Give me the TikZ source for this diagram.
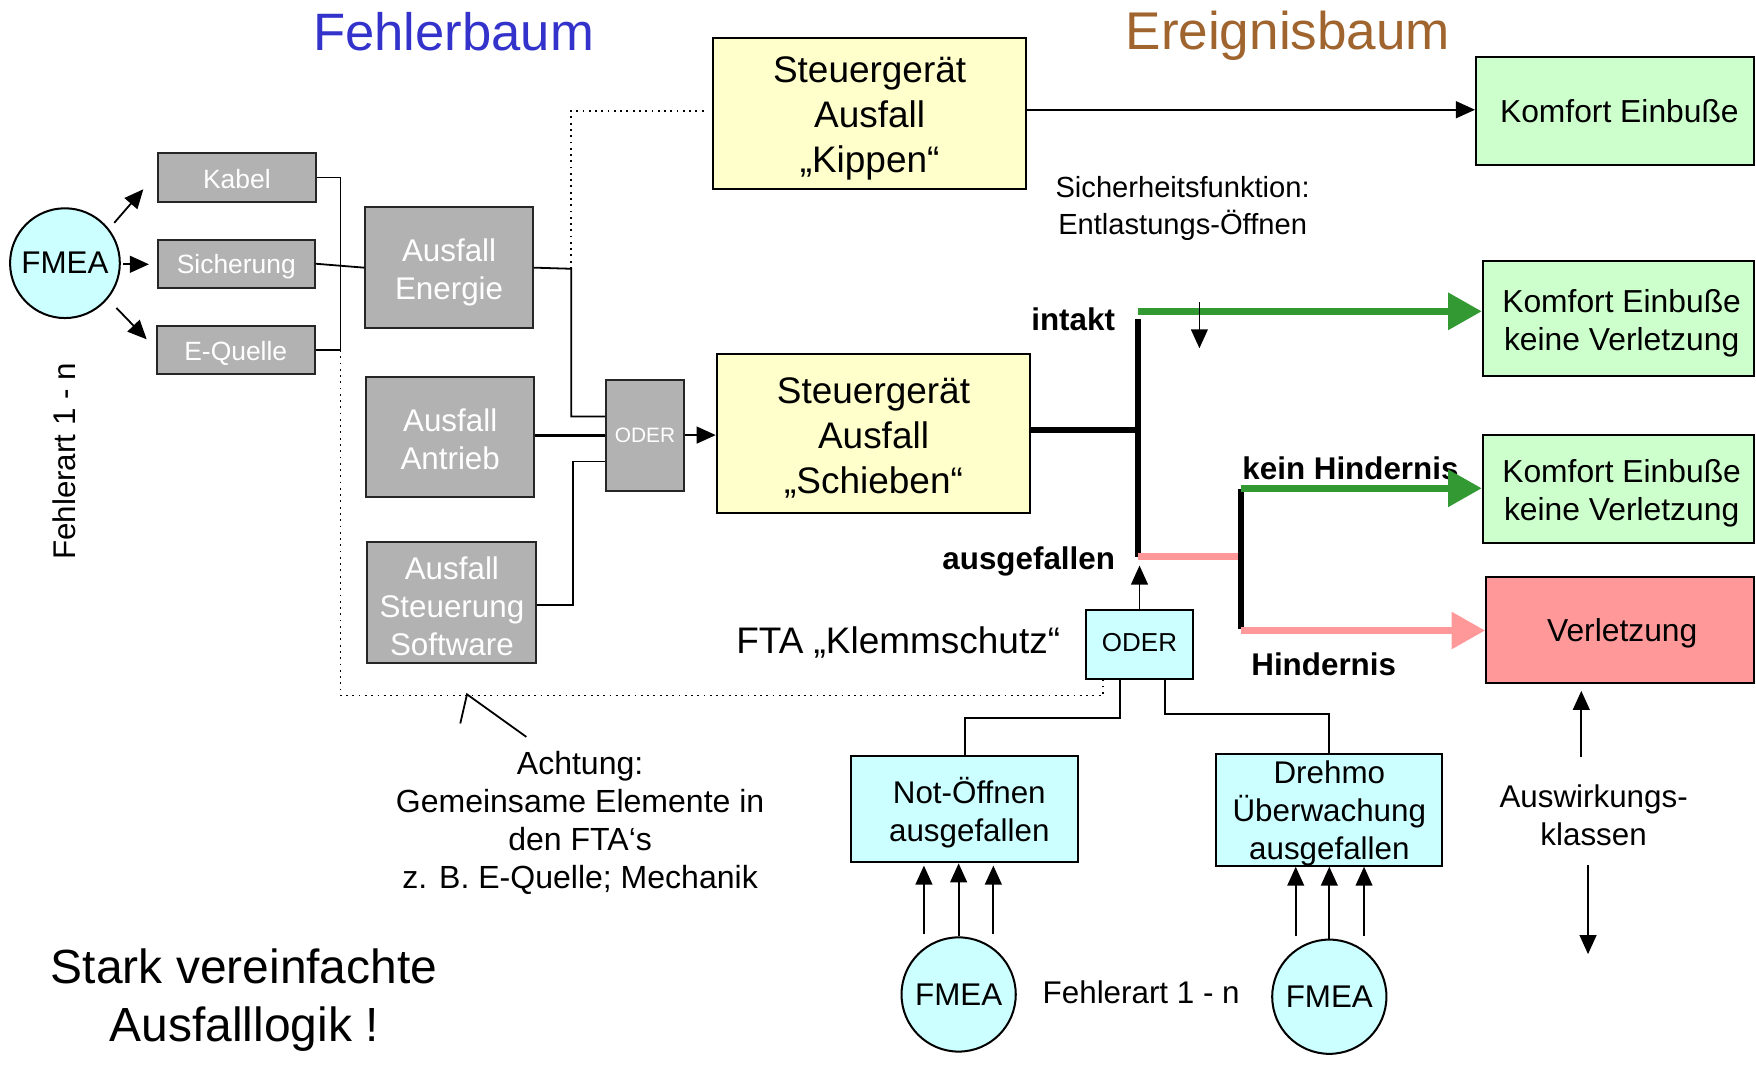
\documentclass[tikz,border=0pt]{standalone}
\usepackage{fontspec}
\setmainfont{Liberation Sans}
\usetikzlibrary{arrows.meta,calc}
\definecolor{grayfill}{HTML}{B2B2B2}
\definecolor{yelfill}{HTML}{FFFFCC}
\definecolor{grnfill}{HTML}{CCFFCC}
\definecolor{cyanfill}{HTML}{CCFFFF}
\definecolor{redfill}{HTML}{FF9999}
\definecolor{grnline}{HTML}{339933}
\definecolor{pinkline}{HTML}{FF9999}
\definecolor{titleblue}{HTML}{3333CC}
\definecolor{titlebrown}{HTML}{A0652F}
\newcommand\fsz[2]{\fontsize{#1}{#2}\selectfont}
\begin{document}
\begin{tikzpicture}[x=0.5pt,y=-0.5pt,
  box/.style={draw=black, line width=0.9pt, inner sep=0pt, align=center},
  gbox/.style={box, fill=grayfill, draw=black!85},
  ybox/.style={box, fill=yelfill},
  grbox/.style={box, fill=grnfill},
  cbox/.style={box, fill=cyanfill},
  fmeac/.style={draw=black, line width=0.9pt, fill=cyanfill, circle, inner sep=0pt, font=\fsz{14}{17}},
  wire/.style={line width=0.8pt},
  arr/.style={line width=0.8pt, -{Triangle[length=8.5pt,width=7.5pt]}},
  dotline/.style={line width=0.8pt, dotted},
  thickline/.style={line width=2.7pt},
  garr/.style={line width=3pt, draw=grnline, -{Triangle[length=15pt,width=16pt]}},
  parr/.style={line width=3pt, draw=pinkline, -{Triangle[length=15pt,width=16pt]}},
  lbl/.style={inner sep=0pt, align=center},
  blbl/.style={inner sep=0pt, font=\bfseries\fsz{14}{17}},
  wtxt/.style={lbl, text=white, font=\fsz{14}{17}},
  btxt/.style={lbl, font=\fsz{14.2}{17}},
]
\useasboundingbox (0,0) rectangle (1568,957);

% titles
\node[lbl, text=titleblue, font=\fsz{23.5}{28}] (t1) at (405,28) {Fehlerbaum};
\node[lbl, text=titlebrown, font=\fsz{23.7}{28}] (t2) at (1150,32) {Ereignisbaum};

% left FMEA
\node[fmeac, minimum size=49pt] (fmeaL) at (58,235) {FMEA};
\node[lbl, rotate=90, font=\fsz{14}{17}] (fa1) at (57,412) {Fehlerart 1 - n};

% small gray boxes
\node[gbox, minimum width=70.5pt, minimum height=21.5pt] (kabel) at (211.5,158.5) {};
\node[gbox, minimum width=70pt, minimum height=21.5pt] (sich) at (211,235.5) {};
\node[gbox, minimum width=70.5pt, minimum height=21.5pt] (quelle) at (210.5,312.5) {};
\node[wtxt, font=\fsz{11.8}{14}] (kabelt) at ([yshift=-0.8pt]kabel.center) {Kabel};
\node[wtxt, font=\fsz{11.8}{14}] (sicht) at ([yshift=-1.4pt]sich.center) {Sicherung};
\node[wtxt, font=\fsz{11.8}{14}] (quellet) at ([yshift=-1.4pt]quelle.center) {E-Quelle};

% big gray boxes
\node[gbox, minimum width=75pt, minimum height=54pt] (energie) at (401,239) {};
\node[gbox, minimum width=75pt, minimum height=53.5pt] (antrieb) at (402,390.5) {};
\node[gbox, minimum width=75.5pt, minimum height=54pt] (steuer) at (403.5,538) {};
\node[wtxt] (energiet) at ([yshift=-2pt]energie.center) {Ausfall\\Energie};
\node[wtxt] (antriebt) at ([yshift=-1pt]antrieb.center) {Ausfall\\Antrieb};
\node[wtxt] (steuert) at ([yshift=-1.5pt]steuer.center) {Ausfall\\Steuerung\\Software};
\node[gbox, minimum width=35pt, minimum height=49.5pt, text=white, font=\fsz{9.3}{11}] (oderg) at (576,388.5) {ODER};

% yellow boxes
\node[ybox, minimum width=139.5pt, minimum height=67.5pt] (kippen) at (776.5,101.5) {};
\node[ybox, minimum width=140pt, minimum height=71pt] (schieben) at (780,387) {};
\node[lbl, font=\fsz{16.5}{20}] (kippent) at ([yshift=-2pt]kippen.center) {Steuergerät\\Ausfall\\„Kippen“};
\node[lbl, font=\fsz{16.5}{20}] (schiebent) at ([yshift=-2pt]schieben.center) {Steuergerät\\Ausfall\\„Schieben“};

% result boxes
\node[grbox, minimum width=124pt, minimum height=48pt] (komf1) at (1442,99) {};
\node[grbox, minimum width=121pt, minimum height=51.5pt] (komf2) at (1445,284.5) {};
\node[grbox, minimum width=121pt, minimum height=48.5pt] (komf3) at (1445,436.5) {};
\node[box, fill=redfill, minimum width=119.5pt, minimum height=47.5pt] (verl) at (1446.5,562.5) {};
\node[btxt] (komf1t) at ([xshift=2pt]komf1.center) {Komfort Einbuße};
\node[btxt] (komf2t) at ([xshift=1.5pt,yshift=-2pt]komf2.center) {Komfort Einbuße\\keine Verletzung};
\node[btxt] (komf3t) at ([xshift=1.5pt,yshift=-2pt]komf3.center) {Komfort Einbuße\\keine Verletzung};
\node[btxt] (verlt) at ([xshift=1pt,yshift=-1.5pt]verl.center) {Verletzung};

% cyan boxes
\node[cbox, minimum width=47.5pt, minimum height=30.5pt] (oder2) at (1017.5,575.5) {};
\node[lbl, font=\fsz{11.6}{14}] (oder2t) at ([yshift=1pt]oder2.center) {ODER};
\node[cbox, minimum width=101.5pt, minimum height=47.5pt] (notoff) at (861.5,722.5) {};
\node[cbox, minimum width=101pt, minimum height=50pt] (drehmo) at (1187,723) {};
\node[btxt, font=\fsz{14}{17}] (notofft) at ([xshift=2pt,yshift=-1.5pt]notoff.center) {Not-Öffnen\\ausgefallen};
\node[btxt, font=\fsz{14}{17}] (drehmot) at ([yshift=-1.5pt]drehmo.center) {Drehmo\\Überwachung\\ausgefallen};
\node[fmeac, minimum size=51pt] (fm2) at (856,888) {FMEA};
\node[fmeac, minimum size=51pt] (fm3) at (1187,890) {FMEA};

% texts
\node[lbl, font=\fsz{13}{16.5}] (sf) at (1056,186) {Sicherheitsfunktion:\\Entlastungs-Öffnen};
\node[blbl, anchor=east] (intakt) at (996,285) {intakt};
\node[blbl, anchor=east] (ausg) at (996,501) {ausgefallen};
\node[blbl, anchor=west] (keinh) at (1109,418) {kein Hindernis};
\node[blbl, anchor=west] (hind) at (1117,593) {Hindernis};
\node[lbl, anchor=east, font=\fsz{16.5}{20}] (fta) at (947,574) {FTA „Klemmschutz“};
\node[lbl, font=\fsz{14}{17}] (fa2) at (1019,886) {Fehlerart 1 - n};
\node[lbl, font=\fsz{14.3}{17}] (acht) at (518,735) {Achtung:\\Gemeinsame Elemente in\\den FTA‘s\\z. B. E-Quelle; Mechanik};
\node[lbl, font=\fsz{21.4}{26}] (stark) at (218,893) {Stark vereinfachte\\Ausfalllogik !};
\node[lbl, font=\fsz{14}{17}] (ausw) at (1423,728) {Auswirkungs-\\klassen};

% coordinates
\coordinate (bus) at (304,0);
\coordinate (j1) at (510,240);
\coordinate (j2) at (512,540);
\coordinate (dotc) at (985,621);
\coordinate (dotl) at (304,621);
\coordinate (v1t) at (1016,285);
\coordinate (v1b) at (1016,497);
\coordinate (g1) at (1016,278);
\coordinate (v2t) at (1108,437);
\coordinate (v2b) at (1108,562);
\coordinate (g2) at (1108,436);
\coordinate (p2s) at (1108,563);
\coordinate (ja) at (1017.5,505);
\coordinate (s1a) at (1071,270);
\coordinate (s1b) at (1071,311);
\coordinate (a1s) at (102,199); \coordinate (a1e) at (128,169);
\coordinate (a2s) at (110,236); \coordinate (a2e) at (133,236);
\coordinate (a3s) at (104,275); \coordinate (a3e) at (131,303);
\coordinate (p0) at (417,620); \coordinate (p1) at (411,646); \coordinate (p2) at (470,658);
\coordinate (aw1) at (1412,676);
\coordinate (aw2) at (1418,772); \coordinate (aw3) at (1418,852);

% FMEA arrows
\draw[arr] (a1s) -- (a1e);
\draw[arr] (a2s) -- (a2e);
\draw[arr] (a3s) -- (a3e);

% fault tree wiring
\draw[wire] (kabel.east) -- (kabel.east -| bus) -- (quelle.east -| bus) -- (quelle.east);
\draw[wire] (sich.east) -- (energie.west);
\draw[dotline] (quelle.east -| bus) -- (dotl) -- (dotc) -- (dotc |- oder2.south);
\draw[wire] (energie.east) -- (j1) |- ($(oderg.west)+(0,-16.5)$);
\draw[dotline, shorten >=2.5pt] (j1) |- (kippen.west |- 0,99);
\draw[line width=1.3pt] (antrieb.east |- 0,389) -- (oderg.west |- 0,389);
\draw[wire] (steuer.east |- j2) -- (j2) |- ($(oderg.west)+(0,23.5)$);
\draw[arr] (oderg.east) -- (schieben.west |- oderg.east);

% event tree
\draw[arr] (kippen.east |- 0,98) -- (komf1.west |- 0,98);
\draw[line width=3pt] (schieben.east |- 0,384) -- (v1t |- 0,384);
\draw[thickline] (v1t) -- (v1b);
\draw[garr] (g1) -- (g1 -| komf2.west);
\draw[arr] (s1a) -- (s1b);
\draw[line width=3pt, draw=pinkline] (v1b) -- (v1b -| v2t);
\draw[thickline] (v2t) -- (v2b);
\draw[garr] (g2) -- (g2 -| komf3.west);
\draw[parr] (p2s) -- (p2s -| verl.west);
\draw[arr] (oder2.north) -- (ja);

% Klemmschutz FTA wiring
\draw[wire] ([xshift=-8.75pt]oder2.south) -- ++(0,34) -| (notoff.north);
\draw[wire] ([xshift=11.25pt]oder2.south) -- ++(0,31) -| (drehmo.north);
\draw[arr] ($(fm2.north)+(-31,-2)$) -- ($(notoff.south)+(-36.5,2)$);
\draw[arr] (fm2.north) -- (fm2.north |- notoff.south);
\draw[arr] ($(fm2.north)+(31,-2)$) -- ($(notoff.south)+(25.5,2)$);
\draw[arr] ($(fm3.north)+(-30,-2)$) -- ($(drehmo.south)+(-30,0)$);
\draw[arr] (fm3.north) -- (fm3.north |- drehmo.south);
\draw[arr] ($(fm3.north)+(31,-2)$) -- ($(drehmo.south)+(31,0)$);

% pointer
\draw[wire] (p1) -- (p0) -- (p2);

% Auswirkungsklassen arrows
\draw[arr, shorten >=3pt] (aw1) -- (aw1 |- verl.south);
\draw[arr] (aw2) -- (aw3);
\end{tikzpicture}
\end{document}
